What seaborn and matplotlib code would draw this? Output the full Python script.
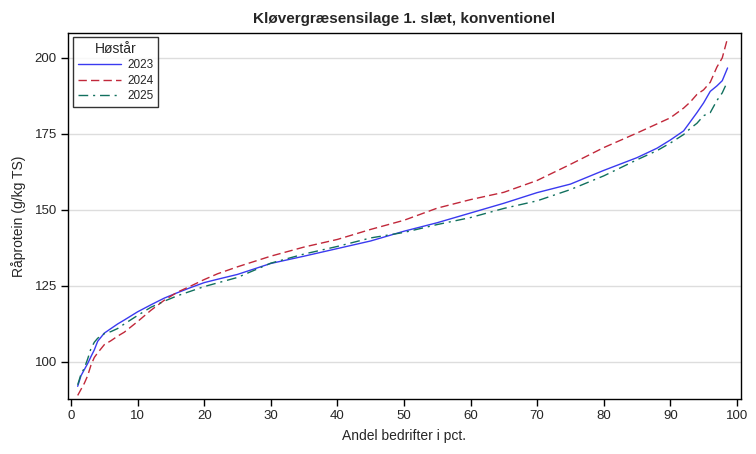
import pandas as pd
import matplotlib
matplotlib.use("Agg")
import matplotlib.pyplot as plt
import seaborn as sns

# -------------------------------------------------------
# DATA
# -------------------------------------------------------
andel = [1, 1.5, 2, 2.5, 3, 3.5, 4, 5, 6, 7, 8, 10, 12, 14, 16, 18, 20, 22, 25,
         30, 35, 40, 45, 50, 55, 60, 65, 70, 75, 80, 85, 88, 90, 92, 93, 94,
         95, 96, 97, 97.8, 98.6]

protein_2023 = [92, 95.5, 97.5, 99.5, 101.8, 104, 106.8, 109.5, 111, 112.5,
                113.8, 116.5, 118.8, 121, 122.8, 124.5, 126.1, 127.2, 128.8,
                132.4, 134.8, 137.3, 139.8, 143, 145.8, 149, 152.2, 155.7,
                158.5, 163, 167.2, 170.3, 173, 176, 179, 182, 185.2, 189,
                190.8, 192.5, 196.7]

protein_2024 = [89, 91, 93, 95.5, 99, 101.5, 103, 105.7, 107, 108.5, 109.8,
                113.3, 117, 120.3, 123, 125, 127.1, 129, 131.3, 134.8, 137.8,
                140.3, 143.6, 146.6, 150.6, 153.4, 155.8, 159.7, 165, 170.5,
                175.3, 178.3, 180.3, 183.5, 185.5, 188, 189.5, 192, 197, 200,
                206.5]

protein_2025 = [92.5, 96, 98, 101, 104.5, 106.5, 107.8, 109.3, 110, 111,
                112.5, 115.3, 118, 120, 121.8, 123.3, 124.8, 126, 127.8,
                132.5, 135.5, 138, 140.8, 142.6, 145.2, 147.5, 150.5, 153,
                156.7, 161.2, 166.5, 169.5, 172, 174.8, 176.8, 178.5, 181,
                182, 186, 188.5, 192.3]

years = ['2023', '2024', '2025']
y_ticks = [100, 125, 150, 175, 200]
x_ticks = [0, 10, 20, 30, 40, 50, 60, 70, 80, 90, 100]

df = pd.concat([
    pd.DataFrame({'andel': andel, 'protein': vals, 'Høstår': yr})
    for yr, vals in zip(years, [protein_2023, protein_2024, protein_2025])
])

# -------------------------------------------------------
# PLOT
# -------------------------------------------------------
sns.set_style('white')
plt.rcParams['font.family'] = ['Liberation Sans Narrow', 'Liberation Sans', 'DejaVu Sans']

fig = plt.figure(figsize=(7.56, 4.54), dpi=100)
ax = fig.add_axes([0.090, 0.121, 0.890, 0.807])

palette = {'2023': '#3a3af0', '2024': '#c1283a', '2025': '#11705e'}
dashes = {'2023': '', '2024': (6, 3), '2025': (7, 3.5, 1.5, 3.5)}

sns.lineplot(
    data=df,
    x='andel',
    y='protein',
    hue='Høstår',
    style='Høstår',
    palette=palette,
    dashes=dashes,
    linewidth=1.0,
    estimator=None,
    sort=False,
    ax=ax
)

ax.set_xlim(-0.45, 100.6)
ax.set_ylim(87.8, 208.3)
ax.set_xticks(x_ticks)
ax.set_yticks(y_ticks)
ax.yaxis.grid(True, color='#dddddd', linewidth=1.0)
ax.set_axisbelow(True)

for spine in ax.spines.values():
    spine.set_color('black')
    spine.set_linewidth(1.0)

ax.tick_params(axis='both', direction='out', length=5, width=1,
               color='black', labelsize=9.5, pad=3, left=True, bottom=True)

ax.set_xlabel('Andel bedrifter i pct.', fontsize=10, labelpad=5)
ax.set_ylabel('Råprotein (g/kg TS)', fontsize=10, labelpad=6)
ax.set_title('Kløvergræsensilage 1. slæt, konventionel',
             fontsize=11, fontweight='bold', family='Liberation Sans', pad=7)

leg = ax.legend(title='Høstår', loc='upper left', fontsize=8.5,
                title_fontsize=10, frameon=True, fancybox=False,
                edgecolor='black', handlelength=3.7, handletextpad=0.5,
                borderpad=0.4, labelspacing=0.3, borderaxespad=0,
                bbox_to_anchor=(0.0074, 0.988))
leg.get_frame().set_linewidth(1.0)

plt.savefig('out.png', dpi=100)
